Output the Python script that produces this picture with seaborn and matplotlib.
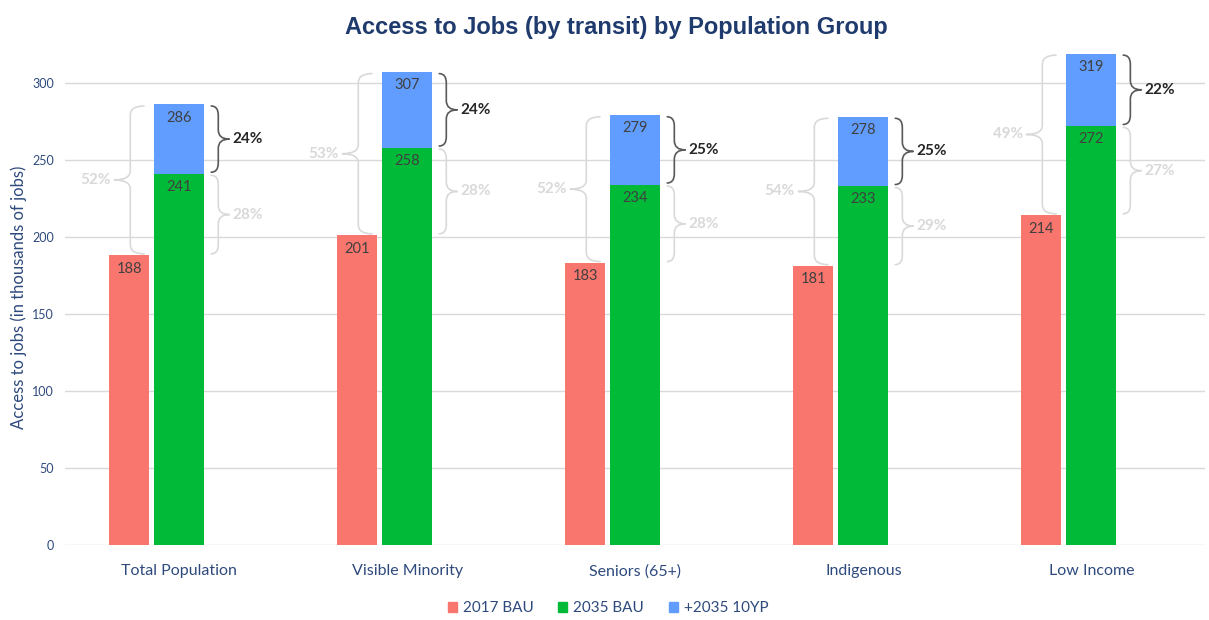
import numpy as np
import pandas as pd
import matplotlib.pyplot as plt
import seaborn as sns
from matplotlib.path import Path
from matplotlib.patches import PathPatch, Patch

# data (thousands of jobs)
groups = ['Total Population', 'Visible Minority', 'Seniors (65+)', 'Indigenous', 'Low Income']
bau_2017 = [188, 201, 183, 181, 214]
bau_2035 = [241, 258, 234, 233, 272]
plus_10yp = [286, 307, 279, 278, 319]
pct_total = ['52%', '53%', '52%', '54%', '49%']
pct_bau = ['28%', '28%', '28%', '29%', '27%']
pct_10yp = ['24%', '24%', '25%', '25%', '22%']
series_names = ['2017 BAU', '2035 BAU', '+2035 10YP']

RED, GREEN, BLUE = '#F8766D', '#00BA38', '#619CFF'
NAVY = '#1F3B6E'
TICK = '#2E4A7D'
LIGHT = '#D9D9D9'
DARK = '#595959'

sns.set_style('white')
plt.rcParams['font.family'] = ['Lato', 'DejaVu Sans']

fig = plt.figure(figsize=(12.09, 6.2), dpi=100)
ax = fig.add_axes([0.054, 0.121, 0.943, 0.800])

pos = np.arange(len(groups))
df = pd.DataFrame({'pos': pos, 'b17': bau_2017, 'b35': bau_2035, 'yp': plus_10yp})

# stacked look: draw the 10YP total first, then 2035 BAU on top of it
sns.barplot(data=df, x=df['pos'] - 0.22, y='b17', native_scale=True, orient='x',
            width=0.175, color=RED, saturation=1, errorbar=None, linewidth=0, ax=ax)
sns.barplot(data=df, x='pos', y='yp', native_scale=True, orient='x',
            width=0.22, color=BLUE, saturation=1, errorbar=None, linewidth=0, ax=ax)
sns.barplot(data=df, x='pos', y='b35', native_scale=True, orient='x',
            width=0.22, color=GREEN, saturation=1, errorbar=None, linewidth=0, ax=ax)

ax.set_xlim(-0.5, len(groups) - 0.5)
ax.set_ylim(0, 322)
ax.set_yticks(range(0, 301, 50))
ax.set_xticks(pos)
ax.set_xticklabels(groups, fontsize=11.5, color=TICK)
ax.tick_params(axis='y', labelsize=9, labelcolor=TICK, length=0, pad=8)
ax.tick_params(axis='x', length=0, pad=14)
ax.yaxis.grid(True, color=LIGHT, lw=1)
ax.set_axisbelow(True)
sns.despine(ax=ax, left=True, bottom=True)
ax.set_xlabel('')
ax.set_ylabel('Access to jobs (in thousands of jobs)', fontsize=12, color=TICK, labelpad=4)

# value labels just inside the bar tops
for i in pos:
    ax.text(i - 0.22, bau_2017[i] - 4, str(bau_2017[i]), ha='center', va='top', fontsize=10.5, color='#404040')
    ax.text(i, bau_2035[i] - 4, str(bau_2035[i]), ha='center', va='top', fontsize=10.5, color='#404040')
    ax.text(i, plus_10yp[i] - 4, str(plus_10yp[i]), ha='center', va='top', fontsize=10.5, color='#404040')


def brace(x_end, x_sp, x_tip, y0, y1, color, lw=1.2, ry=6.0):
    ym = (y0 + y1) / 2
    verts = [(x_end, y0), (x_sp, y0), (x_sp, y0 + ry),
             (x_sp, ym - ry),
             (x_sp, ym), (x_tip, ym),
             (x_sp, ym), (x_sp, ym + ry),
             (x_sp, y1 - ry),
             (x_sp, y1), (x_end, y1)]
    codes = [Path.MOVETO, Path.CURVE3, Path.CURVE3,
             Path.LINETO,
             Path.CURVE3, Path.CURVE3,
             Path.CURVE3, Path.CURVE3,
             Path.LINETO,
             Path.CURVE3, Path.CURVE3]
    ax.add_patch(PathPatch(Path(verts, codes), fill=False, edgecolor=color, lw=lw,
                           capstyle='round', joinstyle='round'))


for i in pos:
    # overall change 2017 -> 2035 10YP (left, light)
    brace(i - 0.155, i - 0.215, i - 0.285, bau_2017[i] + 1, plus_10yp[i] - 1, LIGHT)
    ax.text(i - 0.30, (bau_2017[i] + plus_10yp[i]) / 2, pct_total[i], ha='right', va='center',
            fontsize=11, fontweight='bold', color=LIGHT)
    # 2017 -> 2035 BAU (right lower, light)
    brace(i + 0.14, i + 0.171, i + 0.219, bau_2017[i] + 1, bau_2035[i] - 1, LIGHT)
    ax.text(i + 0.232, (bau_2017[i] + bau_2035[i]) / 2, pct_bau[i], ha='left', va='center',
            fontsize=11, fontweight='bold', color=LIGHT)
    # 10YP increment (right upper, dark)
    brace(i + 0.14, i + 0.171, i + 0.219, bau_2035[i] + 1, plus_10yp[i] - 1, DARK)
    ax.text(i + 0.232, (bau_2035[i] + plus_10yp[i]) / 2, pct_10yp[i], ha='left', va='center',
            fontsize=11, fontweight='bold', color='#262626')

fig.text(0.51, 0.955, 'Access to Jobs (by transit) by Population Group', ha='center', va='center',
         fontsize=17, fontweight='bold', color=NAVY,
         family=['Liberation Sans Narrow', 'Liberation Sans', 'DejaVu Sans'])

handles = [Patch(color=c) for c in (RED, GREEN, BLUE)]
fig.legend(handles, series_names, loc='center', bbox_to_anchor=(0.503, 0.019), ncol=3, frameon=False,
           fontsize=11, labelcolor=TICK, handlelength=0.6, handleheight=0.6, handletextpad=0.4,
           columnspacing=1.6)

fig.savefig('out.png', dpi=100)
plt.close(fig)
